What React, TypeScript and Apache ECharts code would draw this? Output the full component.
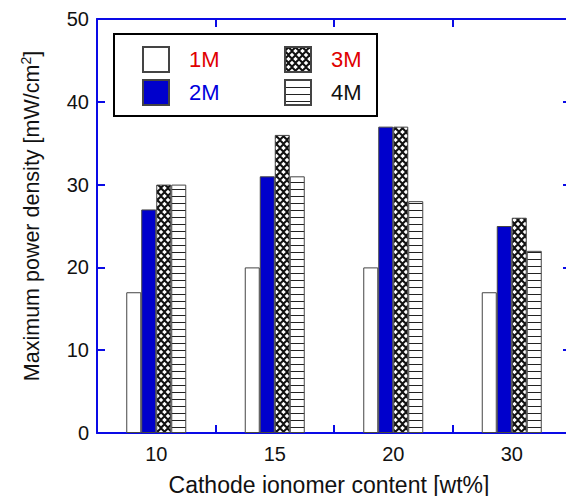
import React, { useEffect, useRef } from "react";
import * as echarts from "echarts";

// Cathode ionomer content (wt%) on the category axis
const categories = ["10", "15", "20", "30"];
// Maximum power density (mW/cm²) per methanol concentration
const series1M = [17, 20, 20, 17];
const series2M = [27, 31, 37, 25];
const series3M = [30, 36, 37, 26];
const series4M = [30, 31, 28, 22];
const seriesNames = ["1M", "2M", "3M", "4M"];
const yTicks = { min: 0, max: 50, interval: 10 };

const AXIS_BLUE = "#0a0ae6";
const FONT = "'Liberation Sans', Arial, Helvetica, sans-serif";

function crossHatchTile(): HTMLCanvasElement {
  const c = document.createElement("canvas");
  c.width = 7;
  c.height = 8;
  const ctx = c.getContext("2d")!;
  ctx.fillStyle = "#111";
  ctx.fillRect(0, 0, 7, 8);
  ctx.fillStyle = "#fff";
  const holes = [
    [3.5, 4],
    [0, 0],
    [7, 0],
    [0, 8],
    [7, 8],
  ];
  for (const [x, y] of holes) {
    ctx.beginPath();
    ctx.moveTo(x, y - 2.3);
    ctx.lineTo(x + 2.3, y);
    ctx.lineTo(x, y + 2.3);
    ctx.lineTo(x - 2.3, y);
    ctx.closePath();
    ctx.fill();
  }
  return c;
}

function hLineTile(): HTMLCanvasElement {
  const c = document.createElement("canvas");
  c.width = 4;
  c.height = 7;
  const ctx = c.getContext("2d")!;
  ctx.fillStyle = "#fff";
  ctx.fillRect(0, 0, 4, 7);
  ctx.fillStyle = "#222";
  ctx.fillRect(0, 0, 4, 1);
  return c;
}

export default function App() {
  const ref = useRef<HTMLDivElement>(null);

  useEffect(() => {
    if (!ref.current) return;
    const chart = echarts.init(ref.current, undefined, { renderer: "svg" });

    const crossFill: any = { image: crossHatchTile(), repeat: "repeat" };
    const lineFill: any = { image: hLineTile(), repeat: "repeat" };

    const border = { borderColor: "#444444", borderWidth: 1 };
    const styles: any[] = [
      { color: "#ffffff", ...border },
      { color: "#0000cc", ...border },
      { color: crossFill, ...border },
      { color: lineFill, ...border },
    ];
    const values = [series1M, series2M, series3M, series4M];
    const textColors = ["#e00000", "#0000dd", "#e00000", "#111111"];

    const axisLine = {
      show: true,
      onZero: false,
      lineStyle: { color: AXIS_BLUE, width: 2 },
    };
    const axisTick = {
      show: true,
      inside: true,
      length: 8,
      lineStyle: { color: AXIS_BLUE, width: 2 },
    };

    const legendBase = {
      orient: "vertical" as const,
      top: 46,
      padding: 0,
      itemWidth: 26,
      itemHeight: 25,
      itemGap: 6,
      selectedMode: false,
      icon: "rect",
      textStyle: {
        fontSize: 22,
        fontFamily: FONT,
        padding: [0, 0, 0, 15],
      },
    };

    chart.setOption({
      animation: false,
      backgroundColor: "#ffffff",
      grid: {
        left: 97,
        top: 19,
        bottom: 63,
        right: 9,
        containLabel: false,
        outerBoundsMode: "none",
      },
      legend: [
        {
          ...legendBase,
          left: 142,
          data: [0, 1].map((i) => ({
            name: seriesNames[i],
            textStyle: { color: textColors[i] },
          })),
        },
        {
          ...legendBase,
          left: 284,
          data: [2, 3].map((i) => ({
            name: seriesNames[i],
            textStyle: { color: textColors[i] },
          })),
        },
      ],
      xAxis: [
        {
          type: "category",
          data: categories,
          position: "bottom",
          axisLine,
          axisTick,
          axisLabel: {
            color: "#111",
            fontSize: 20,
            fontFamily: FONT,
            margin: 11,
          },
          name: "Cathode ionomer content [wt%]",
          nameLocation: "middle",
          nameGap: 40,
          nameTextStyle: {
            color: "#111",
            fontSize: 23,
            fontFamily: FONT,
            padding: [0, 10, 0, 0],
          },
        },
        {
          type: "category",
          data: categories,
          position: "top",
          axisLine,
          axisTick,
          axisLabel: { show: false },
        },
      ],
      yAxis: [
        {
          type: "value",
          ...yTicks,
          position: "left",
          axisLine,
          axisTick,
          splitLine: { show: false },
          axisLabel: {
            color: "#111",
            fontSize: 20,
            fontFamily: FONT,
            margin: 8,
          },
          name: "Maximum power density [mW/cm{sup|2}]",
          nameLocation: "middle",
          nameGap: 52,
          nameTextStyle: {
            color: "#111",
            fontSize: 21.5,
            fontFamily: FONT,
            padding: [0, 0, 0, 20],
            rich: {
              sup: {
                color: "#111",
                fontSize: 14,
                fontFamily: FONT,
                padding: [0, 0, 12, 0],
              },
            },
          },
        },
        {
          type: "value",
          ...yTicks,
          position: "right",
          axisLine,
          axisTick,
          splitLine: { show: false },
          axisLabel: { show: false },
        },
      ],
      graphic: [
        {
          type: "rect",
          z: 100,
          shape: { x: 114, y: 34, width: 263, height: 82 },
          style: { fill: "none", stroke: "#000", lineWidth: 2 },
        },
      ],
      series: seriesNames.map((name, i) => ({
        name,
        type: "bar",
        data: values[i],
        barWidth: 15,
        barGap: "0%",
        itemStyle: styles[i],
        emphasis: { disabled: true },
      })),
    });

    return () => chart.dispose();
  }, []);

  return (
    <div
      style={{
        position: "absolute",
        left: 0,
        top: 0,
        width: 566,
        height: 496,
        overflow: "hidden",
      }}
    >
      <div ref={ref} style={{ width: 580, height: 496 }} />
    </div>
  );
}
